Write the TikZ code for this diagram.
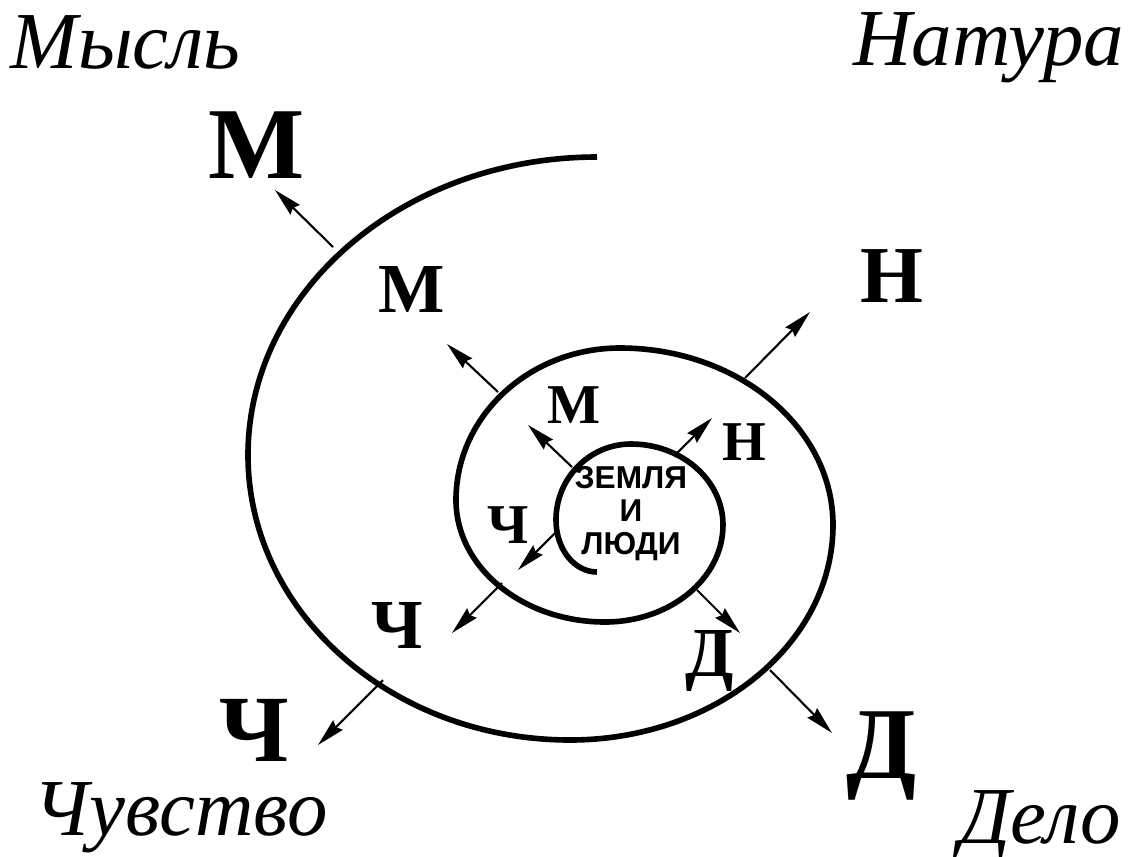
\documentclass[tikz,border=0pt]{standalone}
\usepackage{fontspec}
\setmainfont{Liberation Serif}
\newfontfamily\earthfont{Liberation Sans}
\usetikzlibrary{arrows.meta}
\tikzset{
  coil/.style={line width=1.6pt, line join=round},
  ray/.style={-{Stealth[length=8pt, width=3.8pt, inset=0.8pt]}, line width=0.6pt},
  realm/.style={font=\fontsize{23}{27}\selectfont\itshape, inner sep=0pt},
  bigletter/.style={font=\fontsize{29}{33}\selectfont\bfseries, inner sep=0pt, anchor=base},
  midletter/.style={font=\fontsize{20}{24}\selectfont\bfseries, inner sep=0pt, anchor=base},
  smallletter/.style={font=\fontsize{16}{19}\selectfont\bfseries, inner sep=0pt, anchor=base},
  core/.style={font=\earthfont\bfseries\fontsize{9}{9.4}\selectfont, align=center, inner sep=0pt}
}

\begin{document}
\begin{tikzpicture}
  \useasboundingbox (0,0) rectangle (11.34,8.56);

  % Spiral
  \draw[coil] (5.97,2.84) .. controls (5.75,2.84) and (5.56,3.06) .. (5.56,3.36)
    arc[start angle=180, end angle=90, x radius=0.75, y radius=0.76]
    arc[start angle=90, end angle=0, x radius=0.92, y radius=0.81]
    arc[start angle=0, end angle=-90, x radius=1.18, y radius=0.97]
    arc[start angle=270, end angle=180, x radius=1.49, y radius=1.22]
    arc[start angle=180, end angle=90, x radius=1.64, y radius=1.52]
    arc[start angle=90, end angle=0, x radius=2.13, y radius=1.77]
    arc[start angle=0, end angle=-90, x radius=2.63, y radius=2.15]
    arc[start angle=270, end angle=180, x radius=3.22, y radius=2.85]
    arc[start angle=180, end angle=90, x radius=3.49, y radius=2.98];

  \node[core] (earth) at (6.31,3.42) {ЗЕМЛЯ\\И\\ЛЮДИ};

  % Corner words
  \node[realm, anchor=base west] (thought) at (0.10,7.88) {Мысль};
  \node[realm, anchor=base east] (nature) at (11.25,7.91) {Натура};
  \node[realm, anchor=base west] (feeling) at (0.33,0.21) {Чувство};
  \node[realm, anchor=base east] (deed) at (11.22,0.13) {Дело};

  % Letters
  \node[bigletter] (M3) at (2.57,6.78) {М};
  \node[bigletter, font=\fontsize{27}{31}\selectfont\bfseries] (Ch3) at (2.54,0.95) {Ч};
  \node[bigletter] (D3) at (8.82,0.78) {Д};
  \node[midletter] (M2) at (4.12,5.44) {М};
  \node[midletter, font=\fontsize{23}{27}\selectfont\bfseries] (N2) at (8.92,5.54) {Н};
  \node[midletter] (Ch2) at (3.97,2.08) {Ч};
  \node[midletter] (D2) at (7.10,1.80) {Д};
  \node[smallletter] (M1) at (5.74,4.33) {М};
  \node[smallletter] (N1) at (7.44,3.96) {Н};
  \node[smallletter] (Ch1) at (5.08,3.13) {Ч};

  % Arrow ends
  \coordinate (m3s) at (3.33,6.09); \coordinate (m3e) at (2.75,6.66);
  \coordinate (ch3s) at (3.83,1.76); \coordinate (ch3e) at (3.18,1.11);
  \coordinate (d3s) at (7.70,1.86); \coordinate (d3e) at (8.32,1.23);
  \coordinate (m2s) at (4.98,4.64); \coordinate (m2e) at (4.47,5.12);
  \coordinate (n2s) at (7.45,4.78); \coordinate (n2e) at (8.10,5.44);
  \coordinate (ch2s) at (5.02,2.73); \coordinate (ch2e) at (4.52,2.23);
  \coordinate (d2s) at (6.97,2.66); \coordinate (d2e) at (7.40,2.23);
  \coordinate (m1s) at (5.72,3.89); \coordinate (m1e) at (5.28,4.31);
  \coordinate (n1s) at (6.77,4.03); \coordinate (n1e) at (7.12,4.38);
  \coordinate (ch1s) at (5.55,3.23); \coordinate (ch1e) at (5.18,2.86);

  % Arrows
  \draw[ray] (m3s) -- (m3e);
  \draw[ray] (ch3s) -- (ch3e);
  \draw[ray] (d3s) -- (d3e);
  \draw[ray] (m2s) -- (m2e);
  \draw[ray] (n2s) -- (n2e);
  \draw[ray] (ch2s) -- (ch2e);
  \draw[ray] (d2s) -- (d2e);
  \draw[ray] (m1s) -- (m1e);
  \draw[ray] (n1s) -- (n1e);
  \draw[ray] (ch1s) -- (ch1e);
\end{tikzpicture}
\end{document}
